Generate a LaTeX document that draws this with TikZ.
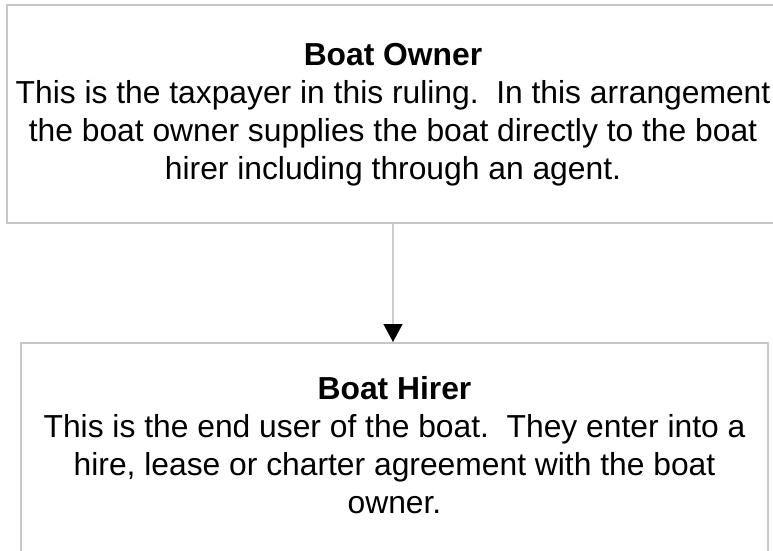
\documentclass[tikz,border=0pt]{standalone}
\usepackage{fontspec}
\setmainfont{Liberation Sans}
\usetikzlibrary{arrows.meta}
\definecolor{boxgray}{RGB}{200,200,200}
\definecolor{linegray}{RGB}{205,205,205}
\tikzset{
  boxnode/.style={draw=boxgray, line width=2pt, rectangle, inner sep=0pt},
  txtnode/.style={align=center, inner sep=0pt, font=\fontsize{31.8}{38}\selectfont},
  flowarrow/.style={draw=linegray, line width=1.5pt, -{Triangle[width=19pt,length=18pt,color=black]}}
}
\begin{document}
\frenchspacing
\begin{tikzpicture}[x=1pt,y=-1pt]
\useasboundingbox (0,0) rectangle (773,550);
\node[boxnode, minimum width=800pt, minimum height=218.5pt] (owner) at (406.5,113.75) {};
\node[boxnode, minimum width=747pt, minimum height=217pt] (hirer) at (394.5,451.5) {};
\node[txtnode] (ownertxt) at (393,114.5) {\textbf{Boat Owner}\\This is the taxpayer in this ruling.\ \ In this arrangement\\the boat owner supplies the boat directly to the boat\\hirer including through an agent.};
\node[txtnode] (hirertxt) at (394.5,444.7) {\textbf{Boat Hirer}\\This is the end user of the boat.\ \ They enter into a\\hire, lease or charter agreement with the boat\\owner.};
\draw[flowarrow] (owner.south -| ownertxt.center) -- (hirer.north -| ownertxt.center);
\end{tikzpicture}
\end{document}
